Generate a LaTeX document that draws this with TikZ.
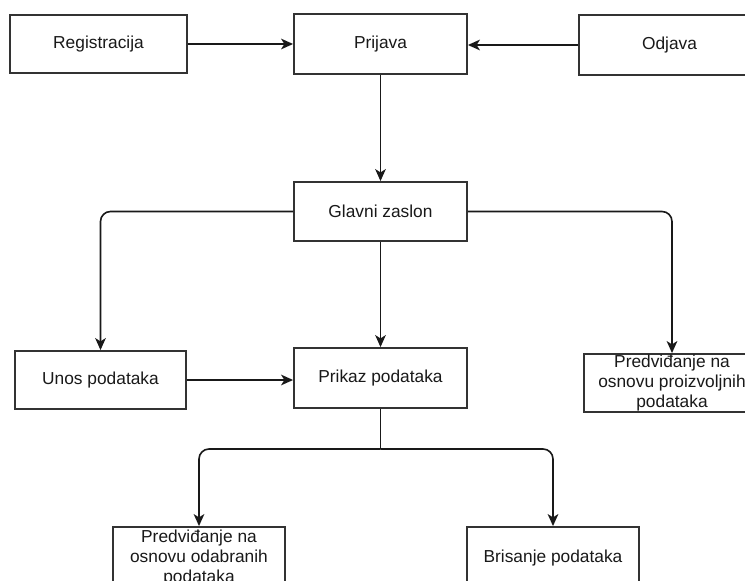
\documentclass[tikz,border=0pt]{standalone}
\usepackage{fontspec}
\setmainfont{Liberation Sans}
\usetikzlibrary{arrows.meta}
\begin{document}
\begin{tikzpicture}[x=0.75pt,y=-0.75pt,
  box/.style={draw=black!80, line width=1.4pt, fill=white, inner sep=0pt,
    font=\fontsize{13}{15}\selectfont, align=center, text=black!90},
  conn/.style={draw=black!90, line width=1.2pt, rounded corners=7.5pt,
    -{Stealth[length=9pt,width=8pt,inset=2.5pt]}},
  plain/.style={draw=black!90, line width=1.2pt}]
\useasboundingbox (0,0) rectangle (745,581);
\clip (0,0) rectangle (745,581);
\fill[white] (0,0) rectangle (745,581);
% nodes
\node[box, minimum width=132.75pt, minimum height=43.5pt] (reg) at (98.5,44) {Registracija};
\node[box, minimum width=129.75pt, minimum height=45pt] (prij) at (380.5,44) {Prijava};
\node[box, minimum width=135.75pt, minimum height=45pt] (odj) at (669.5,45) {Odjava};
\node[box, minimum width=129.75pt, minimum height=44.25pt] (glav) at (380.5,211.5) {Glavni zaslon};
\node[box, minimum width=128.25pt, minimum height=43.5pt] (unos) at (100.5,380) {Unos podataka};
\node[box, minimum width=129.75pt, minimum height=45pt] (prik) at (380.5,378) {Prikaz podataka};
\node[box, minimum width=132pt, minimum height=43.5pt] (predr) at (672,383) {Predviđanje na\\osnovu proizvoljnih\\podataka};
\node[box, minimum width=129pt, minimum height=46.5pt] (predl) at (199,558) {Predviđanje na\\osnovu odabranih\\podataka};
\node[box, minimum width=129pt, minimum height=46.5pt] (bris) at (553,558) {Brisanje podataka};
\coordinate (split) at (380.5,449);
% connectors
\draw[conn] (reg.east) -- (prij.west);
\draw[conn] (odj.west) -- (prij.east |- odj.west);
\draw[conn] (prij.south) -- (glav.north);
\draw[conn] (glav.west) -| (unos.north);
\draw[conn] (glav.south) -- (prik.north);
\draw[conn] (glav.east) -| (predr.north);
\draw[conn] (unos.east) -- (prik.west |- unos.east);
\draw[plain] (prik.south) -- (split);
\draw[conn] (split) -| (predl.north);
\draw[conn] (split) -| (bris.north);
\end{tikzpicture}
\end{document}
